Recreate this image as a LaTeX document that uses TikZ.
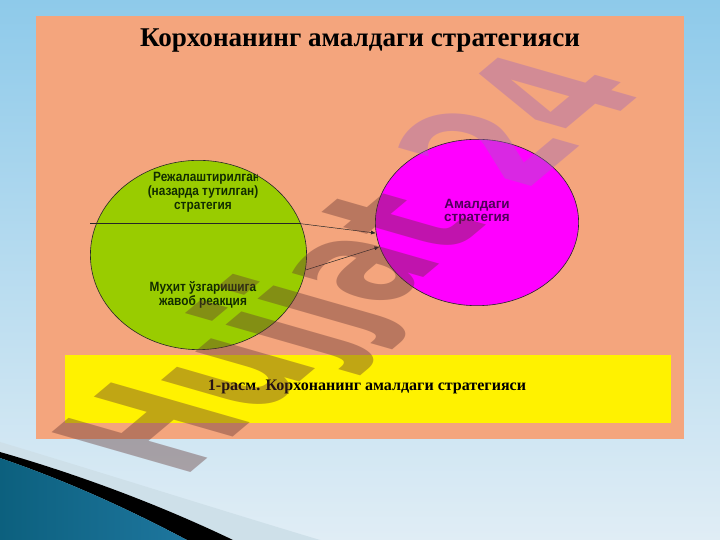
\documentclass[tikz,border=0pt]{standalone}
\usepackage{fontspec}
\setmainfont{Liberation Serif}
\newfontfamily\labelfont{Liberation Sans}
\newfontfamily\narrowfont[FakeStretch=0.88]{Liberation Sans}
\newfontfamily\markfont{DejaVu Sans}
\usetikzlibrary{arrows.meta, positioning, shapes.geometric}

\definecolor{skytop}{RGB}{142,202,234}
\definecolor{skybot}{RGB}{224,237,245}
\definecolor{slide}{RGB}{244,165,125}
\definecolor{leaf}{RGB}{153,204,0}
\definecolor{leafdark}{RGB}{18,45,0}
\definecolor{violet}{RGB}{255,0,255}
\definecolor{plum}{RGB}{80,0,90}
\definecolor{tealdark}{RGB}{12,96,126}
\definecolor{teallight}{RGB}{88,176,212}
\definecolor{tealmid}{RGB}{30,118,158}
\definecolor{bandblue}{RGB}{206,224,233}
\definecolor{markbrown}{RGB}{98,52,50}
\definecolor{markpurple}{RGB}{160,102,187}

\begin{document}
\begin{tikzpicture}[x=1bp, y=1bp, every node/.style={inner sep=0pt},
    bubble/.style={draw=black!85, ellipse, line width=0.6pt},
    leaftext/.style={font=\narrowfont\bfseries\fontsize{13.5}{13.5}\selectfont, text=leafdark, align=center},
    link/.style={-{Latex[length=5pt, width=4pt]}, line width=0.5pt, black!85}]

      \useasboundingbox (0,0) rectangle (720,540);

      % Draw the background of the slide
      \shade[top color=skytop, bottom color=skybot] (0,0) rectangle (720,540);
      \fill[bandblue] (0,98) .. controls (100,68) and (220,30) .. (320,0) -- (233,0)
            .. controls (160,35) and (80,65) .. (0,88) -- cycle;
      \fill[black] (0,88) .. controls (80,65) and (160,35) .. (233,0) -- (187,0)
            .. controls (130,30) and (70,58) .. (0,82) -- cycle;
      \shade[left color=tealdark, middle color=teallight, right color=tealmid]
            (0,82) .. controls (70,58) and (130,30) .. (187,0) -- (0,0) -- cycle;

      % Draw the box
      \fill[slide] (36,101) rectangle (684,524);
      \node[anchor=base, font=\bfseries\fontsize{27.2}{32}\selectfont] (title) at (360,493)
            {Корхонанинг амалдаги стратегияси};

      % Draw the two circles
      \node[bubble, fill=leaf, minimum width=217, minimum height=190] (plan) at (198.5,285) {};
      \node[bubble, fill=violet, minimum width=204, minimum height=167] (real) at (477,317.5) {};

      % Text inside the green circle
      \begin{scope}
        \clip (140,354) rectangle (257.5,372);
        \node[leaftext, anchor=west] (plantop) at (153,362) {Режалаштирилган};
      \end{scope}
      \node[leaftext] (planmid) at (203,341) {(назарда тутилган)\\стратегия};
      \node[leaftext] (react) at (203,245) {Муҳит ўзгаришига\\жавоб реакция};

      \node[font=\labelfont\bfseries\fontsize{13.5}{12.5}\selectfont, text=plum, align=center] (reallab)
            at (477,328) {Амалдаги\\стратегия};

      % Draw the line and the arrows
      \draw[line width=0.5pt, black!85] (plan.west |- plan.17) -- (plan.17);
      \draw[link] (plan.17) -- (real.186);
      \draw[link] (plan.-8) -- (real.194);

      % Caption
      \fill[yellow] (65,117) rectangle (671,185);
      \node[font=\bfseries\fontsize{16.1}{19}\selectfont] (caption) at (367,153)
            {1-расм. Корхонанинг амалдаги стратегияси};

      % Watermark
      \begin{scope}[cm={0.912,0.765,-1.912,0.549,(182,60)}]
        \node[transform shape, anchor=base west, text opacity=0.4,
              font=\markfont\bfseries\fontsize{100}{100}\selectfont] (mark) at (0,0)
              {\textcolor{markbrown}{Hujjat}\hspace{0.38em}\textcolor{markpurple}{24}};
      \end{scope}

\end{tikzpicture}
\end{document}
